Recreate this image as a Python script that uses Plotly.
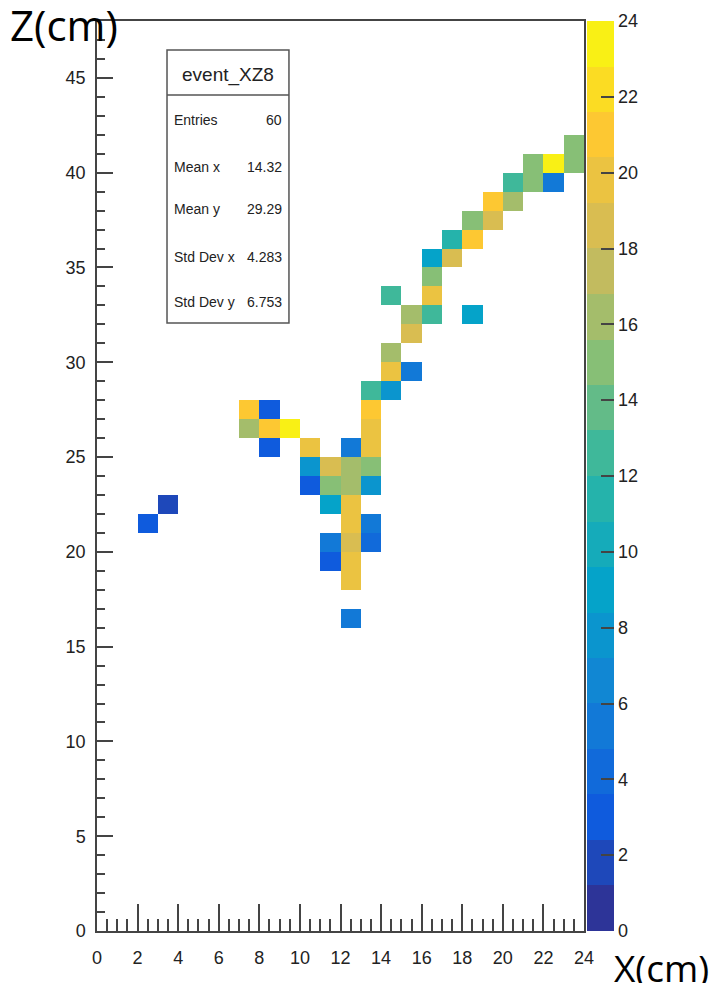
import numpy as np
import plotly.graph_objects as go

# ---- data: occupied bins of the 2D histogram (lower bin edges in cm) and contents ----
cell_x = [12, 12, 11, 12, 11, 12, 13, 2, 12, 13, 3, 11, 12,
          10, 11, 12, 13, 10, 11, 12, 13, 8, 10, 12, 13,
          7, 8, 9, 13, 7, 8, 13, 13, 14, 14, 15, 14, 15,
          15, 16, 18, 14, 16, 16, 16, 17, 17, 18, 18, 19,
          19, 20, 20, 21, 22, 21, 22, 23, 23]
cell_z = [16, 18, 19, 19, 20, 20, 20, 21, 21, 21, 22, 22, 22,
          23, 23, 23, 23, 24, 24, 24, 24, 25, 25, 25, 25,
          26, 26, 26, 26, 27, 27, 27, 28, 28, 29, 29, 30, 31,
          32, 32, 32, 33, 33, 34, 35, 35, 36, 36, 37, 37,
          38, 38, 39, 39, 39, 40, 40, 40, 41]
cell_val = [5.5, 19.5, 3.5, 19.5, 5.5, 18.5, 4.5, 3.5, 19.5, 5.5, 2.0, 9.5, 19.5,
            3.5, 15.5, 16.5, 7.5, 7.5, 18.5, 16.5, 15.5, 3.5, 19.5, 5.5, 19.5,
            16.5, 20.5, 23.5, 19.5, 20.5, 3.5, 21.5, 13.0, 7.5, 19.5, 5.5, 16.5, 18.0,
            16.5, 13.0, 9.0, 13.0, 19.5, 14.5, 8.5, 18.0, 11.5, 21.5, 15.5, 18.0,
            20.5, 16.5, 13.0, 14.5, 5.5, 15.5, 23.5, 14.5, 14.5]

x_edges = list(range(0, 25))      # 24 bins of 1 cm
z_edges = list(range(0, 49))      # 48 bins of 1 cm
cbar_ticks = list(range(0, 25, 2))
stats_labels = ["Entries", "Mean x", "Mean y", "Std Dev x", "Std Dev y"]
stats_values = ["60", "14.32", "29.29", "4.283", "6.753"]
hist_name = "event_XZ8"

# ---- build grid ----
nx, nz = len(x_edges) - 1, len(z_edges) - 1
grid = [[None] * nx for _ in range(nz)]
for cx, cz, v in zip(cell_x, cell_z, cell_val):
    grid[cz][cx] = v
xc = [(a + b) / 2 for a, b in zip(x_edges[:-1], x_edges[1:])]
zc = [(a + b) / 2 for a, b in zip(z_edges[:-1], z_edges[1:])]

# ---- ROOT kBird palette, 20 discrete contour bands ----
stops = [0.0, 0.125, 0.25, 0.375, 0.5, 0.625, 0.75, 0.875, 1.0]
red = [0.2082, 0.0592, 0.0780, 0.0232, 0.1802, 0.5301, 0.8186, 0.9956, 0.9764]
green = [0.1664, 0.3599, 0.5041, 0.6419, 0.7178, 0.7492, 0.7328, 0.7862, 0.9832]
blue = [0.5293, 0.8684, 0.8385, 0.7914, 0.6425, 0.4662, 0.3499, 0.1968, 0.0539]
nb = 20
cs = []
for k in range(nb):
    t = (k + 0.5) / nb
    r = np.interp(t, stops, red) * 255
    g = np.interp(t, stops, green) * 255
    b = np.interp(t, stops, blue) * 255
    col = f"rgb({int(r)},{int(g)},{int(b)})"
    cs.append([k / nb, col])
    cs.append([(k + 1) / nb, col])

FONT = "Liberation Sans, Arial, sans-serif"
AX = "#444444"

fig = go.Figure(go.Heatmap(
    x=xc, y=zc, z=grid, zmin=0, zmax=24, colorscale=cs,
    hoverongaps=False,
    colorbar=dict(
        thickness=27, thicknessmode="pixels", len=1, lenmode="fraction",
        x=1.006, xanchor="left", xpad=0, y=0, yanchor="bottom", ypad=0,
        outlinewidth=0, tickvals=cbar_ticks, ticks="inside", ticklen=13,
        tickwidth=1.5, tickcolor=AX,
        tickfont=dict(family=FONT, size=18, color="#222"),
    ),
))

fig.update_xaxes(
    range=[0, 24], tick0=0, dtick=2, ticks="inside", ticklen=27, tickwidth=1.5,
    tickcolor=AX, showline=True, linecolor=AX, linewidth=1.5, mirror=True,
    showgrid=False, zeroline=False, ticklabelstandoff=10,
    tickfont=dict(family=FONT, size=18, color="#222"),
    minor=dict(dtick=0.5, ticks="inside", ticklen=12, tickwidth=1.5, tickcolor=AX, showgrid=False),
)
fig.update_yaxes(
    range=[0, 48], tick0=0, dtick=5, ticks="inside", ticklen=16, tickwidth=1.5,
    tickcolor=AX, showline=True, linecolor=AX, linewidth=1.5, mirror=True,
    showgrid=False, zeroline=False, ticklabelstandoff=6,
    tickfont=dict(family=FONT, size=18, color="#222"),
    minor=dict(dtick=1, ticks="inside", ticklen=8, tickwidth=1.5, tickcolor=AX, showgrid=False),
)

# ---- stats box ----
bx0, bx1, by0, by1, bdiv = 3.45, 9.46, 32.07, 46.47, 44.10
fig.add_shape(type="rect", xref="x", yref="y", x0=bx0, x1=bx1, y0=by0, y1=by1,
              line=dict(color="#555", width=1.5), fillcolor="white", layer="above")
fig.add_shape(type="line", xref="x", yref="y", x0=bx0, x1=bx1, y0=bdiv, y1=bdiv,
              line=dict(color="#555", width=1.5), layer="above")
fig.add_annotation(x=(bx0 + bx1) / 2, y=45.15, xref="x", yref="y", text=hist_name,
                   showarrow=False, font=dict(family=FONT, size=19, color="#222"))
row_y = [42.78, 40.30, 38.08, 35.55, 33.18]
for lab, val, yy in zip(stats_labels, stats_values, row_y):
    fig.add_annotation(x=3.72, y=yy, xref="x", yref="y", text=lab, showarrow=False,
                       xanchor="left", font=dict(family=FONT, size=14, color="#222"))
    fig.add_annotation(x=9.2, y=yy, xref="x", yref="y", text=val, showarrow=False,
                       xanchor="right", font=dict(family=FONT, size=14, color="#222"))

# ---- axis titles (large, outside the frame) ----
fig.add_annotation(x=-0.183, y=0.996, xref="paper", yref="paper", text="Z(cm)",
                   showarrow=False, xanchor="left", yanchor="middle",
                   font=dict(family="Open Sans, sans-serif", size=42, color="black"))
fig.add_annotation(x=1.0575, y=-0.04, xref="paper", yref="paper", text="X(cm)",
                   showarrow=False, xanchor="left", yanchor="middle",
                   font=dict(family="Open Sans, sans-serif", size=37, color="black"))

# page body adds an 8 px offset; figure sized so the frame lands where the reference has it
fig.update_layout(
    width=712, height=975, autosize=False,
    margin=dict(l=89, r=136, t=13, b=52),
    plot_bgcolor="white", paper_bgcolor="white",
    showlegend=False,
)

fig.write_html("out.html")
